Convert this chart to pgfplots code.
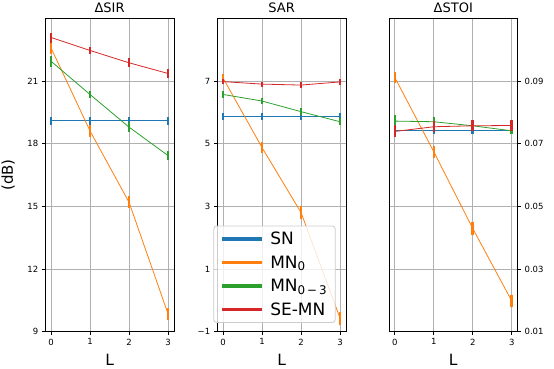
\documentclass[border=0pt]{standalone}
\usepackage{fontspec}
\setmainfont{DejaVu Sans}
\usepackage{pgfplots}
\pgfplotsset{compat=1.18}

\definecolor{cblue}{RGB}{31,119,180}
\definecolor{corange}{RGB}{255,127,14}
\definecolor{cgreen}{RGB}{44,160,44}
\definecolor{cred}{RGB}{214,39,40}
\definecolor{gridgray}{RGB}{176,176,176}
\definecolor{legendgray}{RGB}{204,204,204}

\pgfplotsset{
  panel/.style={
    scale only axis, width=128.6pt, height=313.4pt, anchor=south west,
    xmin=-0.15, xmax=3.15, xtick={0,1,2,3}, xticklabels={0,1,2,3},
    tick align=outside, major tick length=3.5pt, tick pos=left,
    grid=major, grid style={color=gridgray, line width=0.8pt},
    axis line style={line width=0.8pt}, tick style={black, line width=0.8pt},
    ticklabel style={font=\fontsize{8.5}{10}\selectfont},
    % the default title style already shifts it up by 6pt
    title style={font=\fontsize{13}{15}\selectfont, at={(axis description cs:0.5,1)}, anchor=base, yshift=0.3pt, inner sep=0pt},
    xlabel={L},
    xlabel style={font=\fontsize{15.5}{18}\selectfont, at={(axis description cs:0.5,0)}, anchor=base, yshift=-34pt, inner sep=0pt},
    every axis plot/.append style={line width=0.8pt, mark=none},
    error bars/y dir=both, error bars/y explicit, error bars/error mark=none,
    error bars/error bar style={line width=2.6pt},
    legend image code/.code={\draw[#1, line width=3.6pt] (0pt,0pt) -- (40pt,0pt);},
  }
}

\begin{document}
\begin{tikzpicture}
\useasboundingbox (0,0) rectangle (554pt,368pt);

% Delta SIR
\begin{axis}[panel, at={(45.3pt,36.3pt)}, title={ΔSIR},
  ymin=9, ymax=24, ytick={9,12,15,18,21}, yticklabels={9,12,15,18,21},
  ylabel={(dB)},
  ylabel style={font=\fontsize{15}{17}\selectfont, at={(axis description cs:-0.288,0.5)}, anchor=center}]
\addplot[cblue] coordinates {(0,19.10) +- (0,0.19) (1,19.10) +- (0,0.19) (2,19.10) +- (0,0.19) (3,19.10) +- (0,0.19)};
\addplot[corange] coordinates {(0,22.57) +- (0,0.27) (1,18.60) +- (0,0.27) (2,15.19) +- (0,0.29) (3,9.85) +- (0,0.27)};
\addplot[cgreen] coordinates {(0,21.94) +- (0,0.26) (1,20.35) +- (0,0.16) (2,18.79) +- (0,0.24) (3,17.43) +- (0,0.20)};
\addplot[cred] coordinates {(0,23.08) +- (0,0.24) (1,22.46) +- (0,0.17) (2,21.87) +- (0,0.22) (3,21.36) +- (0,0.21)};
\end{axis}

% SAR
\begin{axis}[panel, at={(217.3pt,36.3pt)}, title={SAR},
  ymin=-1, ymax=9, ytick={-1,1,3,5,7}, yticklabels={−1,1,3,5,7},
  legend cell align=left,
  legend style={at={(-0.031,0.028)}, anchor=south west, fill=white, fill opacity=0.8,
    text opacity=1, draw=legendgray, rounded corners=3pt, line width=0.8pt,
    font=\fontsize{17}{19}\selectfont, row sep=5.5pt, inner xsep=6pt, inner ysep=4pt,
    /tikz/every odd column/.append style={column sep=5pt}}]
\addplot[cblue] coordinates {(0,5.87) +- (0,0.10) (1,5.87) +- (0,0.10) (2,5.87) +- (0,0.10) (3,5.87) +- (0,0.10)};
\addlegendentry{SN}
\addplot[corange] coordinates {(0,7.09) +- (0,0.13) (1,4.87) +- (0,0.17) (2,2.80) +- (0,0.20) (3,-0.57) +- (0,0.21)};
\addlegendentry{MN\textsubscript{0}}
\addplot[cgreen] coordinates {(0,6.57) +- (0,0.10) (1,6.36) +- (0,0.09) (2,6.02) +- (0,0.11) (3,5.70) +- (0,0.12)};
\addlegendentry{MN\textsubscript{0\,−\,3}}
\addplot[cred] coordinates {(0,6.98) +- (0,0.08) (1,6.90) +- (0,0.08) (2,6.87) +- (0,0.09) (3,6.97) +- (0,0.09)};
\addlegendentry{SE-MN}
\end{axis}

% Delta STOI
\begin{axis}[panel, at={(389pt,36.3pt)}, title={ΔSTOI},
  ymin=0.01, ymax=0.11, ytick={0.01,0.03,0.05,0.07,0.09},
  yticklabels={0.01,0.03,0.05,0.07,0.09},
  ytick pos=right, yticklabel pos=right]
\addplot[cblue] coordinates {(0,0.0742) +- (0,0.0012) (1,0.0742) +- (0,0.0012) (2,0.0742) +- (0,0.0012) (3,0.0742) +- (0,0.0012)};
\addplot[corange] coordinates {(0,0.0911) +- (0,0.0019) (1,0.0674) +- (0,0.0020) (2,0.0429) +- (0,0.0021) (3,0.0198) +- (0,0.0019)};
\addplot[cgreen] coordinates {(0,0.0772) +- (0,0.0018) (1,0.0770) +- (0,0.0016) (2,0.0757) +- (0,0.0012) (3,0.0741) +- (0,0.0011)};
\addplot[cred] coordinates {(0,0.0739) +- (0,0.0019) (1,0.0754) +- (0,0.0017) (2,0.0757) +- (0,0.0017) (3,0.0758) +- (0,0.0018)};
\end{axis}
\end{tikzpicture}
\end{document}
